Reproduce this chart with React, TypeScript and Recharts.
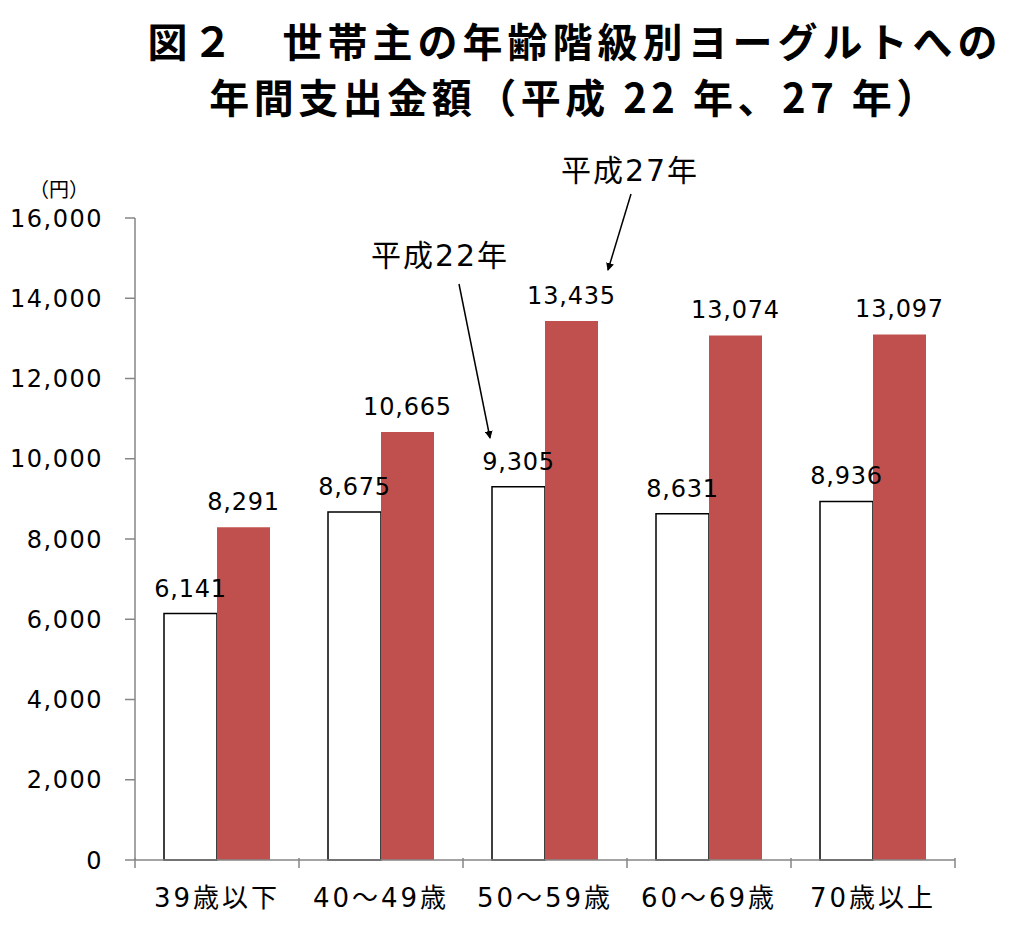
import React from 'react';
import { BarChart, Bar, XAxis, YAxis, LabelList, Customized } from 'recharts';

const categories = ['39歳以下', '40～49歳', '50～59歳', '60～69歳', '70歳以上'];
const heisei22 = [6141, 8675, 9305, 8631, 8936];
const heisei27 = [8291, 10665, 13435, 13074, 13097];
const yTicks = [0, 2000, 4000, 6000, 8000, 10000, 12000, 14000, 16000];

const FONT = "'DejaVu Sans', 'Noto Sans CJK JP', sans-serif";
const CJK = "'Noto Sans CJK JP', sans-serif";
const AXIS = '#868686';
const RED = '#C0504D';

const BAND = 164;

const XTick = (props: any) => {
    const { x, y, payload, index } = props;
    return (
        <g>
            <line x1={x - BAND / 2} y1={y - 10} x2={x - BAND / 2} y2={y} stroke={AXIS} strokeWidth={1.5} />
            {index === categories.length - 1 && (
                <line x1={x + BAND / 2} y1={y - 10} x2={x + BAND / 2} y2={y} stroke={AXIS} strokeWidth={1.5} />
            )}
            <text x={x} y={y + 39} textAnchor="middle" fontSize={26} letterSpacing={3} fill="#000" fontFamily={FONT}>
                {payload.value}
            </text>
        </g>
    );
};

const Notes = () => (
    <g fontFamily={FONT}>
        <defs>
            <marker id="head" markerWidth="8" markerHeight="8" refX="7" refY="4" orient="auto" markerUnits="userSpaceOnUse">
                <path d="M0,0 L8,4 L0,8 Z" fill="#000" />
            </marker>
        </defs>
        <text x={59} y={197} textAnchor="middle" fill="#000" style={{ fontSize: '20px', fontFamily: CJK }}>（円）</text>
        <text x={630} y={181} textAnchor="middle" fontSize={30} letterSpacing={2} fill="#000">平成27年</text>
        <line x1={631} y1={194} x2={608} y2={270} stroke="#000" strokeWidth={1.5} markerEnd="url(#head)" />
        <text x={440} y={266} textAnchor="middle" fontSize={30} letterSpacing={2} fill="#000">平成22年</text>
        <line x1={459} y1={284} x2={490} y2={438} stroke="#000" strokeWidth={1.5} markerEnd="url(#head)" />
    </g>
);

const data = categories.map((name, i) => ({ name, h22: heisei22[i], h27: heisei27[i] }));

const fmt = (v: number) => v.toLocaleString('en-US');

export default function App() {
    return (
        <div style={{ position: 'relative', width: 1024, height: 939, margin: -8, background: '#fff' }}>
            <div
                style={{
                    position: 'absolute', left: 0, width: 1150, top: 12, textAlign: 'center',
                    fontFamily: CJK, fontWeight: 700, fontSize: 40,
                    letterSpacing: 5, lineHeight: '56px', color: '#000',
                }}
            >
                <div>図２　世帯主の年齢階級別ヨーグルトへの</div>
                <div style={{ letterSpacing: 4.5 }}>年間支出金額（平成 22 年、27 年）</div>
            </div>
            <div style={{ position: 'absolute', left: 0, top: 0 }}>
                <BarChart
                    width={1024}
                    height={939}
                    data={data}
                    margin={{ top: 218, right: 69, left: 0, bottom: 0 }}
                    barGap={0}
                >
                    <XAxis
                        dataKey="name"
                        height={79}
                        axisLine={{ stroke: AXIS, strokeWidth: 1.5 }}
                        tickLine={false}
                        tick={<XTick />}
                        interval={0}
                    />
                    <YAxis
                        width={135}
                        domain={[0, 16000]}
                        ticks={yTicks}
                        tickFormatter={fmt}
                        axisLine={{ stroke: AXIS, strokeWidth: 1.5 }}
                        tickLine={{ stroke: AXIS, strokeWidth: 1.5 }}
                        tickSize={10}
                        tickMargin={22}
                        tick={{ fontSize: 24, letterSpacing: 1.5, fill: '#000', fontFamily: FONT }}
                        interval={0}
                    />
                    <Bar dataKey="h22" barSize={53} fill="#fff" stroke="#000" strokeWidth={1.5} isAnimationActive={false}>
                        <LabelList dataKey="h22" position="top" offset={17} formatter={fmt} fontSize={24} letterSpacing={0.8} fill="#000" fontFamily={FONT} />
                    </Bar>
                    <Bar dataKey="h27" barSize={53} fill={RED} isAnimationActive={false}>
                        <LabelList dataKey="h27" position="top" offset={17} formatter={fmt} fontSize={24} letterSpacing={0.8} fill="#000" fontFamily={FONT} />
                    </Bar>
                    <Customized component={Notes} />
                </BarChart>
            </div>
        </div>
    );
}
